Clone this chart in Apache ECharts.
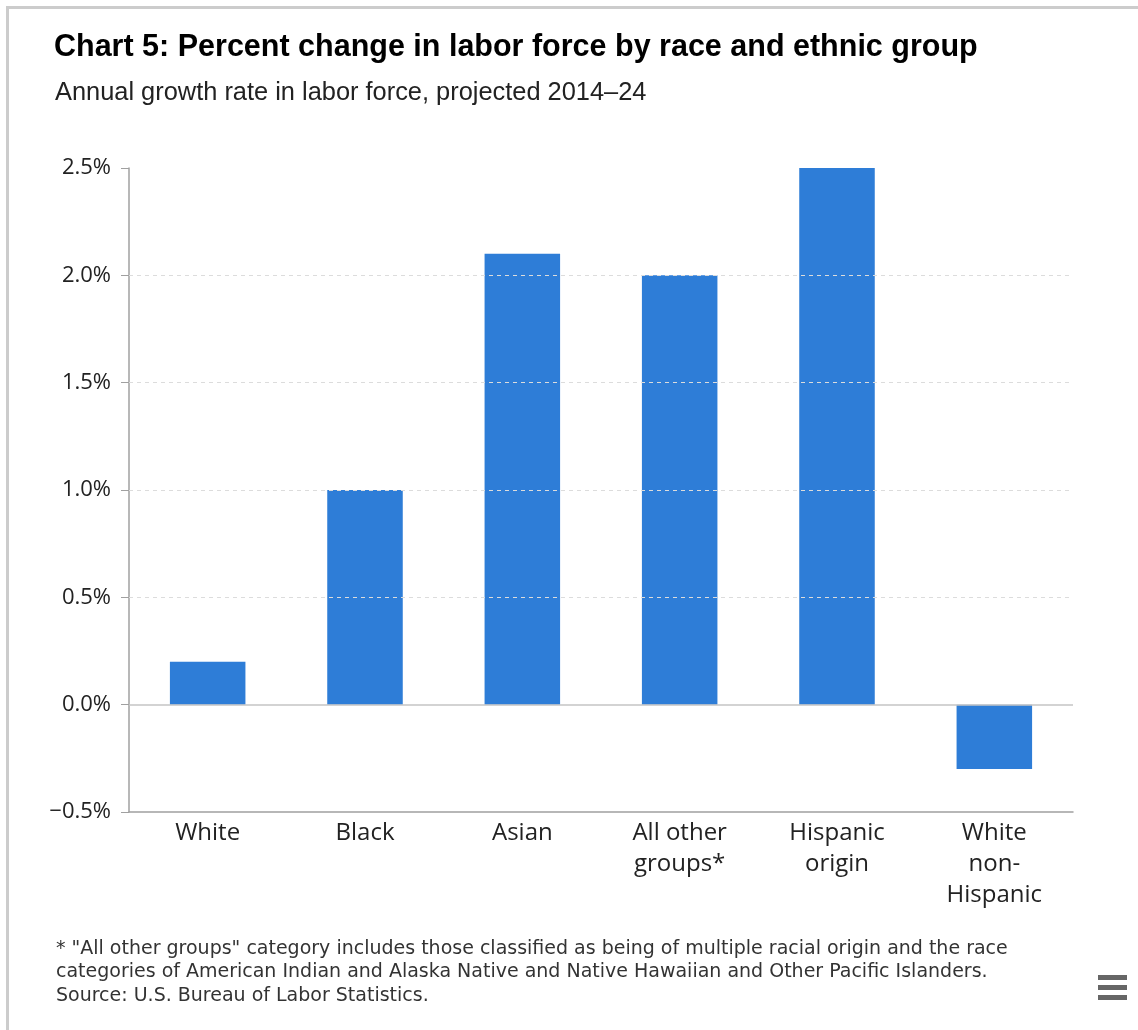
<!DOCTYPE html>
<html>
<head>
<meta charset="utf-8">
<script src="https://cdn.jsdelivr.net/npm/echarts@6/dist/echarts.min.js"></script>
<style>
html,body{margin:0;padding:0;background:#fff;}
#chart{width:1138px;height:1030px;}
</style>
</head>
<body>
<div id="chart"></div>
<script>
const categories = ['White', 'Black', 'Asian', 'All other\ngroups*', 'Hispanic\norigin', 'White\nnon-\nHispanic'];
const growthRates = [0.2, 1.0, 2.1, 2.0, 2.5, -0.3];
const yTicks = { min: -0.5, max: 2.5, interval: 0.5 };
const gridLineValues = [0.5, 1.0, 1.5, 2.0];
const titleText = 'Chart 5: Percent change in labor force by race and ethnic group';
const subtitleText = 'Annual growth rate in labor force, projected 2014\u201324';
const footnoteLines = [
  '* "All other groups" category includes those classified as being of multiple racial origin and the race',
  'categories of American Indian and Alaska Native and Native Hawaiian and Other Pacific Islanders.',
  'Source: U.S. Bureau of Labor Statistics.'
];

const chart = echarts.init(document.getElementById('chart'), null, { renderer: 'canvas' });

const markData = gridLineValues.map(v => ({
  yAxis: v,
  lineStyle: { color: '#dcdcdc', type: [4, 4], width: 1 }
}));
markData.push({ yAxis: 0, lineStyle: { color: '#c4c4c4', type: 'solid', width: 1.5 } });

chart.setOption({
  animation: false,
  backgroundColor: '#fff',
  title: [
    { text: titleText, left: 49, top: 27,
      textStyle: { fontFamily: 'Liberation Sans', fontWeight: 'bold', fontSize: 30.5, color: '#000' } },
    { text: subtitleText, left: 50, top: 75,
      textStyle: { fontFamily: 'Liberation Sans', fontWeight: 'normal', fontSize: 25.4, color: '#222' } }
  ],
  grid: { left: 129, right: 65, top: 168, bottom: 218, containLabel: false },
  xAxis: {
    type: 'category',
    data: categories,
    axisLine: { onZero: false, lineStyle: { color: '#a0a0a0', width: 1.5 } },
    axisTick: { show: false },
    axisLabel: { fontFamily: 'Open Sans', fontSize: 24, color: '#222', lineHeight: 31, margin: 6, interval: 0 }
  },
  yAxis: {
    type: 'value',
    min: yTicks.min, max: yTicks.max, interval: yTicks.interval,
    axisLine: { show: true, lineStyle: { color: '#a0a0a0', width: 1.5 } },
    axisTick: { show: true, length: 8, lineStyle: { color: '#a0a0a0' } },
    splitLine: { show: false },
    axisLabel: {
      fontFamily: 'Open Sans', fontSize: 22, color: '#222', margin: 18,
      formatter: v => (v < 0 ? '\u2212' + Math.abs(v).toFixed(1) : v.toFixed(1)) + '%'
    }
  },
  series: [{
    type: 'bar',
    data: growthRates,
    barWidth: '48%',
    itemStyle: { color: '#2e7dd7' },
    markLine: {
      silent: true, symbol: 'none', label: { show: false },
      data: markData
    }
  }],
  graphic: [
    { type: 'rect', shape: { x: 6, y: 6, width: 1132, height: 3 }, style: { fill: '#cccccc' } },
    { type: 'rect', shape: { x: 6, y: 6, width: 3, height: 1024 }, style: { fill: '#cccccc' } },
    { type: 'text', left: 56, top: 937,
      style: { text: footnoteLines.join('\n'), font: '19px "DejaVu Sans"', fill: '#333', lineHeight: 23.5 } },
    { type: 'rect', shape: { x: 1098, y: 975, width: 29, height: 5 }, style: { fill: '#666' } },
    { type: 'rect', shape: { x: 1098, y: 985, width: 29, height: 5 }, style: { fill: '#666' } },
    { type: 'rect', shape: { x: 1098, y: 995, width: 29, height: 5 }, style: { fill: '#666' } }
  ]
});
</script>
</body>
</html>
